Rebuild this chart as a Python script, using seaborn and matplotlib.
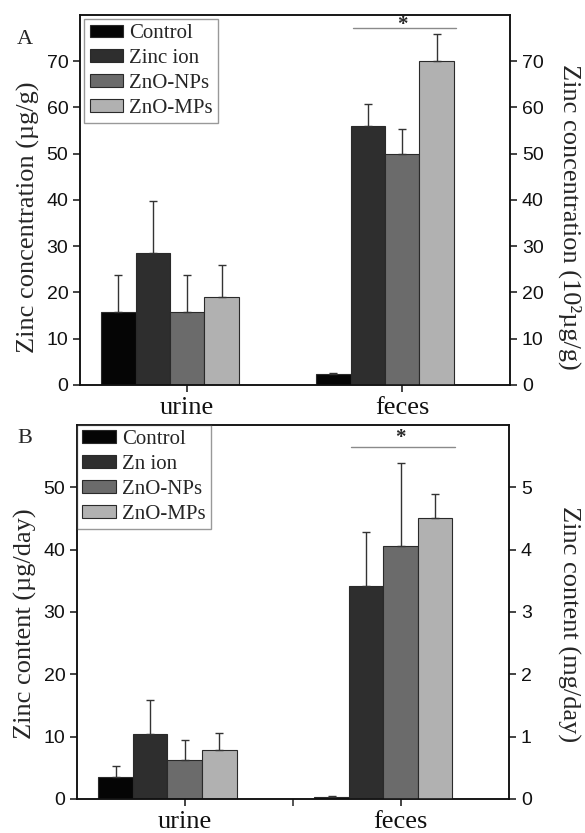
import pandas as pd
import matplotlib.pyplot as plt
import numpy as np
import seaborn as sns
from matplotlib.container import BarContainer
from matplotlib.ticker import FixedLocator

# values
sites = ['urine', 'feces']
groups_a = ['Control', 'Zinc ion', 'ZnO-NPs', 'ZnO-MPs']
groups_b = ['Control', 'Zn ion', 'ZnO-NPs', 'ZnO-MPs']
colors = ['#050505', '#2e2e2e', '#6b6b6b', '#b1b1b1']

# panel A: urine in ug/g (left axis), feces in 10^2 ug/g (right axis)
a_urine = [15.7, 28.5, 15.7, 19.0]
a_urine_sd = [8.1, 11.2, 8.1, 7.0]
a_feces = [2.3, 56.0, 50.0, 70.0]
a_feces_sd = [0.2, 4.7, 5.4, 5.8]

# panel B: urine in ug/day (left axis), feces in mg/day (right axis)
b_urine = [3.5, 10.4, 6.2, 7.8]
b_urine_sd = [1.8, 5.4, 3.2, 2.8]
b_feces = [0.03, 3.41, 4.06, 4.51]
b_feces_sd = [0.01, 0.87, 1.32, 0.38]

sns.set_style('ticks')
plt.rcParams['font.family'] = ['Liberation Serif', 'DejaVu Serif']
plt.rcParams['axes.linewidth'] = 1.1


def make_df(site, groups, vals, sds):
    return pd.DataFrame({'site': site, 'group': groups, 'value': vals, 'sd': sds})


def bars(ax, df, groups, legend):
    sns.barplot(data=df, x='site', y='value', hue='group', order=sites,
                hue_order=groups, palette=colors, width=0.64, errorbar=None,
                edgecolor='#2a2a2a', linewidth=0.8, legend=legend, ax=ax)
    # upper error bars only, taken from the drawn bars
    conts = [c for c in ax.containers if isinstance(c, BarContainer)]
    for i, cont in enumerate(conts):
        for bar in cont:
            x = bar.get_x() + bar.get_width() / 2
            h = bar.get_height()
            ax.errorbar(x, h, yerr=[[0], [df['sd'].iloc[i]]], fmt='none',
                        ecolor='#333333', elinewidth=1, capsize=3, capthick=1)


def panel(ax, groups, urine, urine_sd, feces, feces_sd, ylim_l, ylim_r,
          yticks_l, yticks_r, ylabel_l, ylabel_r, pad_r, sig_y, star_off,
          label_y, leg_pad):
    ax2 = ax.twinx()
    bars(ax, make_df('urine', groups, urine, urine_sd), groups, True)
    bars(ax2, make_df('feces', groups, feces, feces_sd), groups, False)

    ax.set_ylim(*ylim_l)
    ax2.set_ylim(*ylim_r)
    ax.set_yticks(yticks_l)
    ax2.set_yticks(yticks_r)
    ax.set_xlim(-0.418, 1.582)
    ax.set_xticks([0.08, 1.08])
    ax.set_xticklabels(sites)
    ax.set_xlabel('')
    ax.set_ylabel(ylabel_l, fontsize=19, labelpad=5)
    ax2.set_ylabel(ylabel_r, fontsize=19, rotation=270, va='bottom', labelpad=pad_r)
    ax.yaxis.label.set_y(label_y)
    ax2.yaxis.label.set_y(label_y)
    for a in (ax, ax2):
        a.tick_params(axis='both', direction='out', length=5, width=1.1,
                      labelsize=14, colors='#111111')
        for lab in a.get_yticklabels():
            lab.set_fontfamily('Liberation Sans')
        for s in a.spines.values():
            s.set_visible(True)
            s.set_color('#111111')
    ax.tick_params(axis='x', labelsize=19)

    h, l = ax.get_legend_handles_labels()
    ax.legend(h, l, loc='upper left', fontsize=15, frameon=True, fancybox=False,
              edgecolor='#999999', framealpha=1, handlelength=1.6,
              handleheight=0.57, handletextpad=0.3, labelspacing=0.28,
              borderpad=0.25, borderaxespad=leg_pad)

    # significance mark over the feces group
    ax.plot([0.85, 1.33], [sig_y, sig_y], color='#8a8a8a', lw=1)
    ax.annotate('*', (1.08, sig_y), xytext=(0, star_off), textcoords='offset points',
                ha='center', va='baseline', fontsize=15, fontweight='bold')
    return ax2


fig = plt.figure(figsize=(5.85, 8.33), dpi=100)
ax_a = fig.add_axes([0.137, 0.538, 0.735, 0.444])
ax_b = fig.add_axes([0.132, 0.041, 0.738, 0.449])

panel(ax_a, groups_a, a_urine, a_urine_sd, a_feces, a_feces_sd,
      (0, 80), (0, 80), range(0, 80, 10), range(0, 80, 10),
      'Zinc concentration (\u00b5g/g)', 'Zinc concentration (10\u00b2\u00b5g/g)',
      10, 77.2, -1.5, 0.454, 0.2)
panel(ax_b, groups_b, b_urine, b_urine_sd, b_feces, b_feces_sd,
      (0, 60), (0, 6), range(0, 60, 10), range(0, 6),
      'Zinc content (\u00b5g/day)', 'Zinc content (mg/day)', 18, 56.4, 3,
      0.468, 0.0)
ax_b.xaxis.set_minor_locator(FixedLocator([0.58]))
ax_b.tick_params(axis='x', which='minor', direction='out', length=5, width=1.1)

fig.text(0.043, 0.953, 'A', fontsize=16, ha='center', va='center')
fig.text(0.043, 0.474, 'B', fontsize=16, ha='center', va='center')

fig.savefig('out.png', dpi=100)
